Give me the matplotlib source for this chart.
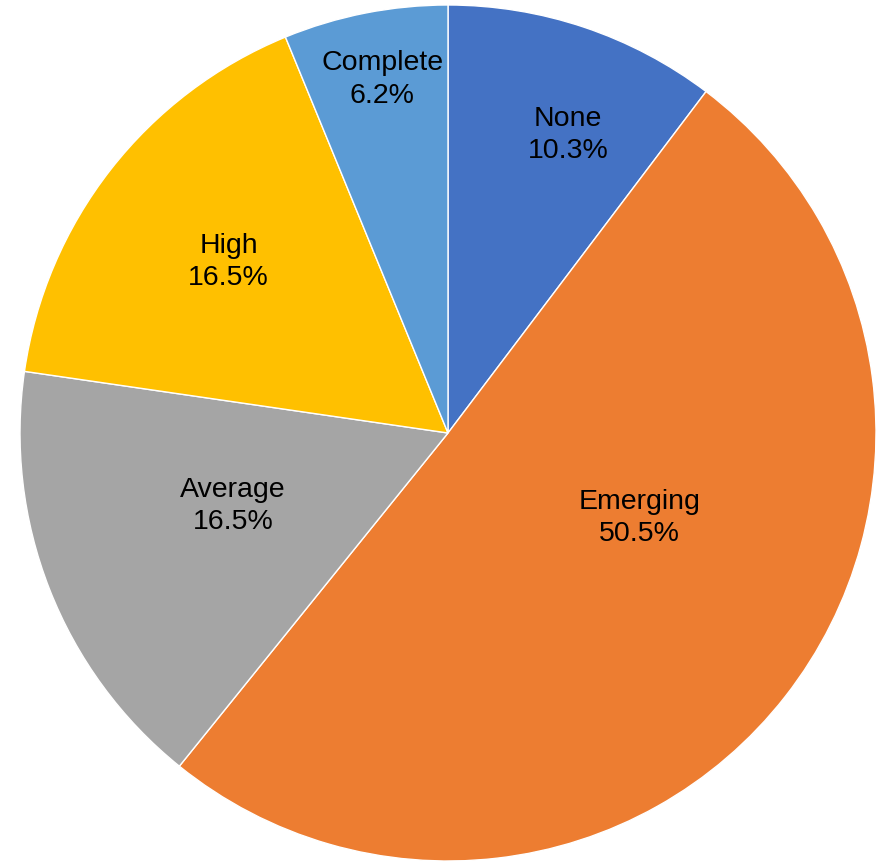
import matplotlib
matplotlib.use("Agg")
import matplotlib.pyplot as plt
import numpy as np

# ---------------------------------------------------------------------------
# Data
# ---------------------------------------------------------------------------
CATEGORIES = ["None", "Emerging", "Average", "High", "Complete"]
SHARES = [10.3, 50.5, 16.5, 16.5, 6.2]
COLORS = ["#4472C4", "#ED7D31", "#A5A5A5", "#FFC000", "#5B9BD5"]

# label placement: radius fraction and angle tweak (deg) from wedge middle
LABEL_RADIUS = [0.75, 0.49, 0.53, 0.65, 0.84]
LABEL_ANGLE_SHIFT = [-3.4, 14.0, -2.7, 0.0, -0.6]

plt.rcParams["font.family"] = ["Liberation Sans", "DejaVu Sans"]

fig = plt.figure(figsize=(8.82, 8.65), dpi=100)
ax = fig.add_axes([20 / 882, 4 / 865, 856 / 882, 856 / 865])

wedges, _ = ax.pie(
    SHARES,
    colors=COLORS,
    startangle=90,
    counterclock=False,
    radius=1.0,
    wedgeprops=dict(edgecolor="white", linewidth=1.0),
)

for w, name, share, r, shift in zip(wedges, CATEGORIES, SHARES,
                                     LABEL_RADIUS, LABEL_ANGLE_SHIFT):
    mid = np.deg2rad((w.theta1 + w.theta2) / 2 + shift)
    ax.text(r * np.cos(mid), r * np.sin(mid), f"{name}\n{share:.1f}%",
            ha="center", va="center", fontsize=20.5, color="black",
            linespacing=1.32)

ax.set_xlim(-1, 1)
ax.set_ylim(-1, 1)
ax.set_aspect("auto")
ax.axis("off")

fig.savefig("out.png", dpi=100)
